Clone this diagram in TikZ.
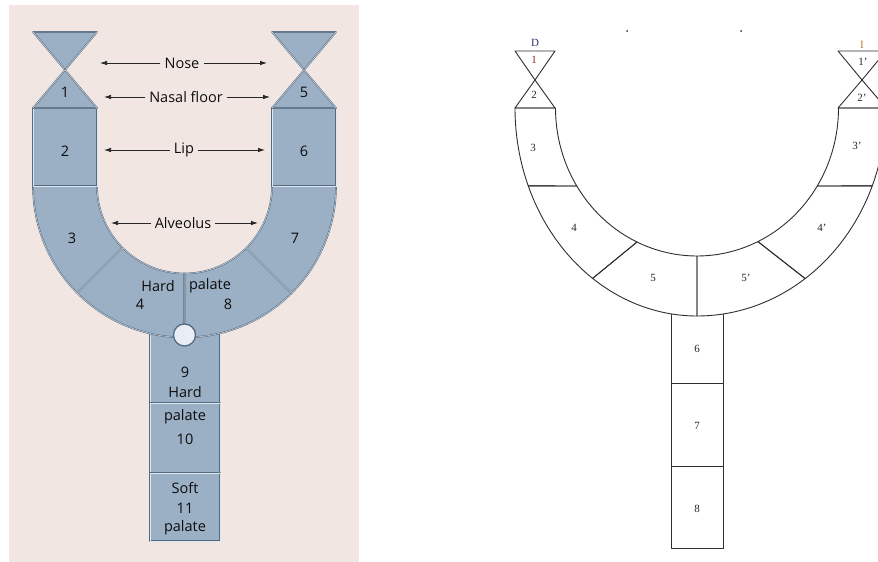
\documentclass[tikz,border=0pt]{standalone}
\usepackage{fontspec}
\newfontfamily\labelsans{Open Sans}
\newfontfamily\labelserif[Ligatures=TeX]{Liberation Serif}
\usetikzlibrary{arrows.meta,calc}
\definecolor{panelbg}{HTML}{F2E6E2}
\definecolor{tissue}{HTML}{9CB0C5}
\definecolor{tissueedge}{HTML}{566B80}
\definecolor{tissuelight}{HTML}{DCE7F0}
\definecolor{holefill}{HTML}{E8EEF3}
\definecolor{inkline}{HTML}{2E2E2E}

\begin{document}
\begin{tikzpicture}[x=1pt,y=1pt,
  tis/.style={fill=tissue, draw=tissueedge, line width=1.6pt, line join=round,
              postaction={draw=tissuelight, line width=0.45pt}},
  hole/.style={fill=holefill, draw=tissueedge, line width=1.3pt},
  sanslbl/.style={font=\labelsans\fontsize{14.5}{16}\selectfont, text=black!95, inner sep=0pt},
  arrlbl/.style={font=\labelsans\fontsize{14.5}{16}\selectfont, text=black!95, inner sep=4pt},
  ptr/.style={draw=black!85, line width=0.75pt, -{Latex[length=7pt,width=4.5pt]}},
  sketch/.style={draw=inkline, line width=0.9pt, line join=round},
  seriflbl/.style={font=\labelserif\fontsize{11}{12}\selectfont, text=black!85, inner sep=0pt}
]
\useasboundingbox (0,0) rectangle (878,562);

% ---------------- left panel: coloured scheme ----------------
\fill[panelbg] (9,0) rectangle (359,557);

% stem (palate column), drawn before the arch so the arch covers its top
\path[tis] (150,240) rectangle (220,159);
\path[tis] (150,159) rectangle (220,89);
\path[tis] (150,89) rectangle (220,21);

% arch segments around centre C
\coordinate (C) at (184.5,376);
\path[tis] ($(C)+(180:151.5pt)$) arc[start angle=180,end angle=225,radius=151.5pt]
  -- ($(C)+(225:87.5pt)$) arc[start angle=225,end angle=180,radius=87.5pt] -- cycle;
\path[tis] ($(C)+(225:151.5pt)$) arc[start angle=225,end angle=270,radius=151.5pt]
  -- ($(C)+(270:87.5pt)$) arc[start angle=270,end angle=225,radius=87.5pt] -- cycle;
\path[tis] ($(C)+(270:151.5pt)$) arc[start angle=270,end angle=315,radius=151.5pt]
  -- ($(C)+(315:87.5pt)$) arc[start angle=315,end angle=270,radius=87.5pt] -- cycle;
\path[tis] ($(C)+(315:151.5pt)$) arc[start angle=315,end angle=360,radius=151.5pt]
  -- ($(C)+(360:87.5pt)$) arc[start angle=360,end angle=315,radius=87.5pt] -- cycle;

% incisive foramen
\path[hole] (184.5,227) circle[radius=11pt];

% lip blocks and nasal hourglasses
\path[tis] (33,454) rectangle (97,376);
\path[tis] (272,454) rectangle (336,376);
\path[tis] (33,530) -- (97,530) -- (65,492) -- cycle;
\path[tis] (65,492) -- (97,454) -- (33,454) -- cycle;
\path[tis] (272,530) -- (336,530) -- (304,492) -- cycle;
\path[tis] (304,492) -- (336,454) -- (272,454) -- cycle;

% segment numbers and region words
\node[sanslbl] (n1) at (65,470) {1};
\node[sanslbl] (n5) at (304,470) {5};
\node[sanslbl] (n2) at (65,411) {2};
\node[sanslbl] (n6) at (304,411) {6};
\node[sanslbl] (n3) at (72,324) {3};
\node[sanslbl] (n7) at (295,324) {7};
\node[sanslbl] (hardA) at (158,276) {Hard};
\node[sanslbl] (palA) at (210,276) {palate};
\node[sanslbl] (n4) at (140,258) {4};
\node[sanslbl] (n8) at (228,258) {8};
\node[sanslbl] (n9) at (185,190) {9};
\node[sanslbl] (hardB) at (185,170) {Hard};
\node[sanslbl] (palB) at (185,145) {palate};
\node[sanslbl] (n10) at (185,123) {10};
\node[sanslbl] (soft) at (185,74) {Soft};
\node[sanslbl] (n11) at (185,54) {11};
\node[sanslbl] (palC) at (185,34) {palate};

% region labels with double pointers
\node[arrlbl] (nose) at (182,499) {Nose};
\node[arrlbl] (nasal) at (186,465) {Nasal floor};
\node[arrlbl] (lip) at (184,412) {Lip};
\node[arrlbl] (alv) at (183,339) {Alveolus};
\coordinate (noseL) at (100,499);  \coordinate (noseR) at (267,499);
\coordinate (nasalL) at (104,465); \coordinate (nasalR) at (270,465);
\coordinate (lipL) at (104,412);   \coordinate (lipR) at (265,412);
\coordinate (alvL) at (111,339);   \coordinate (alvR) at (258,339);
\draw[ptr] (nose) -- (noseL);   \draw[ptr] (nose) -- (noseR);
\draw[ptr] (nasal) -- (nasalL); \draw[ptr] (nasal) -- (nasalR);
\draw[ptr] (lip) -- (lipL);     \draw[ptr] (lip) -- (lipR);
\draw[ptr] (alv) -- (alvL);     \draw[ptr] (alv) -- (alvR);

% ---------------- right panel: line scheme ----------------
\coordinate (E) at (697,454);
% hourglasses
\draw[sketch] (515,511) -- (555,511) -- (535,482) -- cycle;
\draw[sketch] (535,482) -- (555,454) -- (515,454) -- cycle;
\draw[sketch] (838,511) -- (886,511) -- (862,482) -- cycle;
\draw[sketch] (862,482) -- (886,454) -- (838,454) -- cycle;

% arch segments (elliptic)
\draw[sketch] ($(E)+(180:182pt and 208pt)$) arc[start angle=180,end angle=202,x radius=182pt,y radius=208pt]
  -- ($(E)+(211.8:141.5pt and 148pt)$) arc[start angle=211.8,end angle=180,x radius=141.5pt,y radius=148pt] -- cycle;
\draw[sketch] ($(E)+(202:182pt and 208pt)$) arc[start angle=202,end angle=235,x radius=182pt,y radius=208pt]
  -- ($(E)+(244.9:141.5pt and 148pt)$) arc[start angle=244.9,end angle=211.8,x radius=141.5pt,y radius=148pt] -- cycle;
\draw[sketch] ($(E)+(235:182pt and 208pt)$) arc[start angle=235,end angle=270,x radius=182pt,y radius=208pt]
  -- ($(E)+(270:141.5pt and 148pt)$) arc[start angle=270,end angle=244.9,x radius=141.5pt,y radius=148pt] -- cycle;
\draw[sketch] ($(E)+(270:189pt and 208pt)$) arc[start angle=270,end angle=304.9,x radius=189pt,y radius=208pt]
  -- ($(E)+(295.5:141.5pt and 148pt)$) arc[start angle=295.5,end angle=270,x radius=141.5pt,y radius=148pt] -- cycle;
\draw[sketch] ($(E)+(304.9:189pt and 208pt)$) arc[start angle=304.9,end angle=338,x radius=189pt,y radius=208pt]
  -- ($(E)+(328.2:141.5pt and 148pt)$) arc[start angle=328.2,end angle=295.5,x radius=141.5pt,y radius=148pt] -- cycle;
\draw[sketch] ($(E)+(338:189pt and 208pt)$) arc[start angle=338,end angle=360,x radius=189pt,y radius=208pt]
  -- ($(E)+(360:141.5pt and 148pt)$) arc[start angle=360,end angle=328.2,x radius=141.5pt,y radius=148pt] -- cycle;

% stem cells
\draw[sketch] (671,248.1) -- (671,179) -- (723,179) -- (723,248);
\draw[sketch] (671,179) rectangle (723,96);
\draw[sketch] (671,96) rectangle (723,14);

% stray marks
\fill[inkline] (627,531) circle[radius=1pt];
\fill[inkline] (741,531) circle[radius=1pt];

% labels
\node[seriflbl, text={rgb,255:red,40;green,50;blue,110}] (sD) at (535,519) {D};
\node[seriflbl, text={rgb,255:red,150;green,45;blue,40}] (s1) at (534,502) {1};
\node[seriflbl] (s2) at (534,467) {2};
\node[seriflbl] (s3) at (533,414) {3};
\node[seriflbl] (s4) at (574,334) {4};
\node[seriflbl] (s5) at (653,284) {5};
\node[seriflbl] (s5p) at (746,284) {5'};
\node[seriflbl] (s4p) at (822,334) {4'};
\node[seriflbl] (s3p) at (857,416) {3'};
\node[seriflbl, text={rgb,255:red,190;green,120;blue,40}] (sI) at (862,517) {I};
\node[seriflbl] (s1p) at (863,500) {1'};
\node[seriflbl] (s2p) at (862,464) {2'};
\node[seriflbl] (s6) at (697,213) {6};
\node[seriflbl] (s7) at (697,136) {7};
\node[seriflbl] (s8) at (697,53) {8};
\end{tikzpicture}
\end{document}
